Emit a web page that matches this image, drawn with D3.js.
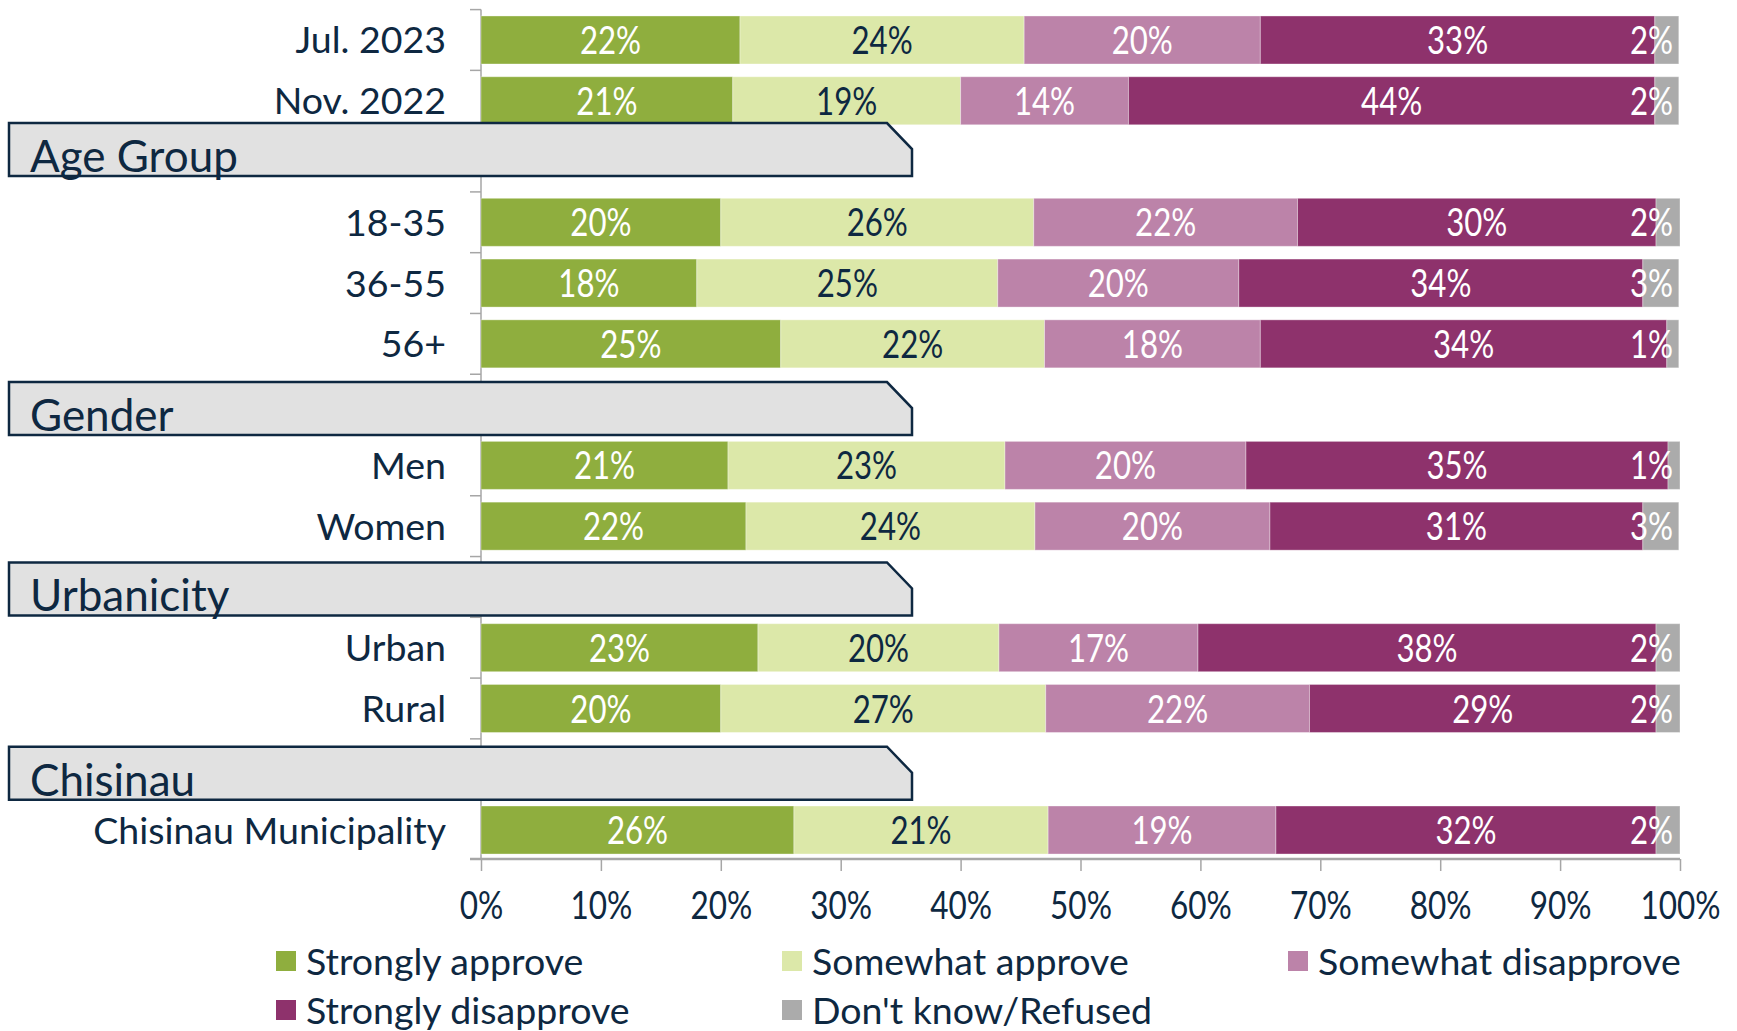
<!DOCTYPE html>
<html>
<head>
<meta charset="utf-8">
<script src="https://cdn.jsdelivr.net/npm/d3@7"></script>
<style>
  body { margin: 0; background: #fff; }
  svg { display: block; }
</style>
</head>
<body>
<script>
// rows from top to bottom; section headers take a row of their own
var rowLabels = ["Jul. 2023", "Nov. 2022", "Age Group", "18-35", "36-55", "56+", "Gender",
    "Men", "Women", "Urbanicity", "Urban", "Rural", "Chisinau", "Chisinau Municipality"];
var headers = ["Age Group", "Gender", "Urbanicity", "Chisinau"];
var categories = ["Jul. 2023", "Nov. 2022", "18-35", "36-55", "56+", "Men", "Women", "Urban", "Rural", "Chisinau Municipality"];

var seriesNames = ["Strongly approve", "Somewhat approve", "Somewhat disapprove", "Strongly disapprove", "Don't know/Refused"];
var stronglyApprove    = [21.6, 21.0, 20.0, 18.0, 25.0, 20.6, 22.1, 23.1, 20.0, 26.1];
var somewhatApprove    = [23.7, 19.0, 26.1, 25.1, 22.0, 23.1, 24.1, 20.1, 27.1, 21.2];
var somewhatDisapprove = [19.7, 14.0, 22.0, 20.1, 18.0, 20.1, 19.6, 16.6, 22.0, 19.0];
var stronglyDisapprove = [32.9, 43.9, 29.9, 33.7, 33.9, 35.2, 31.1, 38.2, 28.9, 31.7];
var dontKnow           = [2.0, 2.0, 2.0, 3.0, 1.0, 1.0, 3.0, 2.0, 2.0, 2.0];

var tickValues = [0, 10, 20, 30, 40, 50, 60, 70, 80, 90, 100];

var colors = ["#8fae3e", "#dce8a9", "#bc83a9", "#8e326c", "#ababab"];
var labelColors = ["#fff", "#0e2841", "#fff", "#fff", "#fff"];
var navy = "#0e2841";

var width = 1737, height = 1031;
var x0 = 481, x1 = 1680;
var squeeze = 0.8;   // the numbers use a narrow face
// vertical nudges of the section boxes (they are not exactly on their row)
var headerShift = [-12, 4, 2, 4];

var svg = d3.select("body").append("svg").attr("width", width).attr("height", height);

var x = d3.scaleLinear().domain([0, 100]).range([x0, x1]);
var y = d3.scaleBand().domain(rowLabels).range([9.6, 860.4]).paddingInner(0.21).paddingOuter(0.105);

var values = [stronglyApprove, somewhatApprove, somewhatDisapprove, stronglyDisapprove, dontKnow];
var rows = categories.map(function (c, i) {
    var acc = 0;
    var segs = values.map(function (arr, k) {
        var s = {k: k, v: arr[i], start: acc};
        acc += arr[i];
        return s;
    });
    return {name: c, segs: segs};
});

// left axis line and ticks between rows
var step = y.step();
var gap = (step - y.bandwidth()) / 2;
svg.append("line").attr("x1", x0).attr("x2", x0)
    .attr("y1", y(rowLabels[0]) - gap).attr("y2", 859)
    .attr("stroke", "#a6a6a6").attr("stroke-width", 1.5);
svg.selectAll("line.ytick").data(rowLabels).enter().append("line")
    .attr("class", "ytick")
    .attr("x1", x0 - 11).attr("x2", x0)
    .attr("y1", function (d) { return y(d) - gap; })
    .attr("y2", function (d) { return y(d) - gap; })
    .attr("stroke", "#a6a6a6").attr("stroke-width", 1.5);

// bars
var g = svg.selectAll("g.row").data(rows).enter().append("g")
    .attr("class", "row")
    .attr("transform", function (d) { return "translate(0," + y(d.name) + ")"; });

g.selectAll("rect").data(function (d) { return d.segs; }).enter().append("rect")
    .attr("x", function (d) { return x(d.start); })
    .attr("width", function (d) { return x(d.start + d.v) - x(d.start); })
    .attr("height", y.bandwidth())
    .attr("fill", function (d) { return colors[d.k]; })
    .attr("stroke", "rgba(255,255,255,0.35)").attr("stroke-width", 1);

g.selectAll("text.val").data(function (d) { return d.segs; }).enter().append("text")
    .attr("class", "val")
    .attr("dy", "0.36em")
    .attr("text-anchor", "middle")
    .style("font-family", "Lato, sans-serif")
    .style("font-size", "39px")
    .attr("fill", function (d) { return labelColors[d.k]; })
    .text(function (d) { return Math.round(d.v) + "%"; })
    .attr("transform", function (d) {
        var c = x(d.start + d.v / 2);
        var w = this.getComputedTextLength() * squeeze;
        var cx = Math.min(c, x1 - 7 - w / 2);
        return "translate(" + cx + "," + (y.bandwidth() / 2) + ") scale(" + squeeze + ",1)";
    });

// category labels
svg.selectAll("text.cat").data(categories).enter().append("text")
    .attr("class", "cat")
    .attr("x", 446)
    .attr("y", function (d) { return y(d) + y.bandwidth() / 2; })
    .attr("dy", "0.36em")
    .attr("text-anchor", "end")
    .style("font-family", "Lato, sans-serif").style("font-size", "37.5px")
    .attr("fill", navy)
    .text(function (d) { return d; });

// bottom axis
var axis = svg.append("g").attr("transform", "translate(0,859)")
    .call(d3.axisBottom(x).tickValues(tickValues).tickSize(12).tickSizeOuter(0)
        .tickFormat(function (d) { return d + "%"; }));
axis.select(".domain").attr("stroke", "#a6a6a6").attr("stroke-width", 2.5)
    .attr("d", "M" + (x0 - 11) + ",0H" + x1);
axis.selectAll(".tick line").attr("stroke", "#a6a6a6").attr("stroke-width", 1.5);
axis.selectAll(".tick text").attr("y", 0).attr("dy", 0)
    .attr("transform", "translate(0,60) scale(" + (squeeze + 0.03) + ",1)")
    .attr("fill", navy)
    .style("font-family", "Lato, sans-serif")
    .style("font-size", "38px");

// section header boxes
var boxH = 53, boxL = 9, boxR = 912, cut = 25;
var hg = svg.selectAll("g.hdr").data(headers).enter().append("g")
    .attr("class", "hdr")
    .attr("transform", function (d, i) {
        return "translate(0," + (y(d) + y.bandwidth() / 2 + headerShift[i] - boxH / 2) + ")";
    });
hg.append("path")
    .attr("d", "M" + boxL + ",0H" + (boxR - cut) + "L" + boxR + "," + (cut + 1) +
        "V" + boxH + "H" + boxL + "Z")
    .attr("fill", "#e1e1e1").attr("stroke", navy).attr("stroke-width", 2.5);
hg.append("text")
    .attr("x", 30).attr("y", boxH - 4)
    .style("font-family", "Lato, sans-serif").style("font-size", "44px")
    .attr("fill", navy)
    .text(function (d) { return d; });

// legend
var legendX = [276, 782, 1288], legendY = [961, 1010];
var lg = svg.selectAll("g.leg").data(seriesNames).enter().append("g")
    .attr("class", "leg")
    .attr("transform", function (d, i) {
        return "translate(" + legendX[i % 3] + "," + legendY[Math.floor(i / 3)] + ")";
    });
lg.append("rect").attr("x", 0).attr("y", -10).attr("width", 20).attr("height", 20)
    .attr("fill", function (d, i) { return colors[i]; });
lg.append("text").attr("x", 30).attr("dy", "0.36em")
    .style("font-family", "Lato, sans-serif").style("font-size", "37.5px")
    .attr("fill", navy)
    .text(function (d) { return d; });
</script>
</body>
</html>
